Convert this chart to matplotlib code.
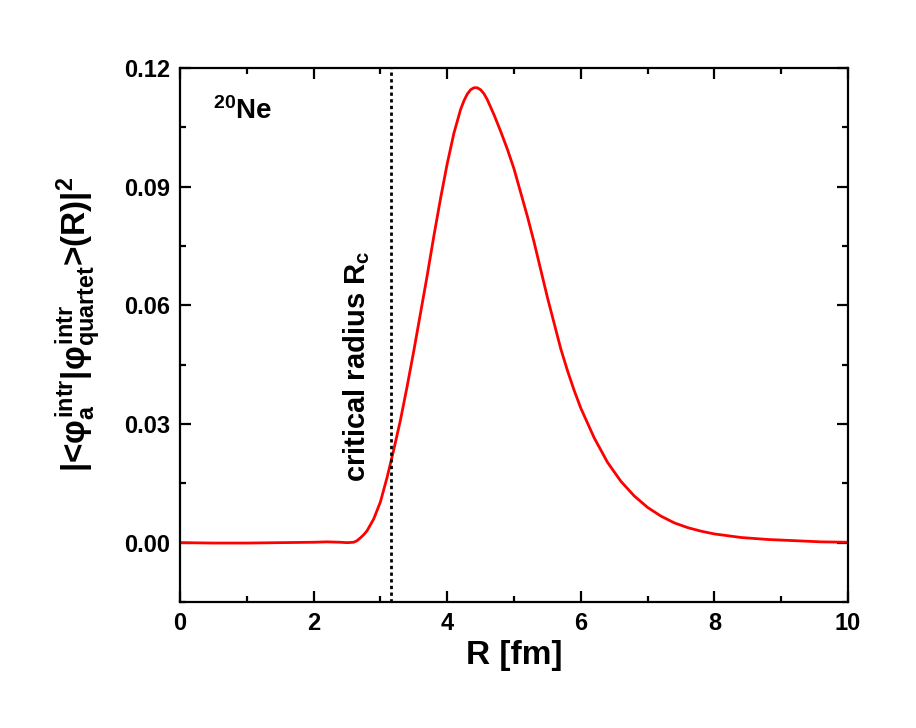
import numpy as np
import matplotlib
matplotlib.use('Agg')
from matplotlib import pyplot as plt
from matplotlib.ticker import MultipleLocator

plt.rcParams['font.family'] = ['Liberation Sans', 'DejaVu Sans']
plt.rcParams['font.weight'] = 'bold'
plt.rcParams['mathtext.fontset'] = 'custom'
plt.rcParams['mathtext.rm'] = 'Liberation Sans:bold'
plt.rcParams['mathtext.it'] = 'Liberation Sans:bold'
plt.rcParams['mathtext.bf'] = 'Liberation Sans:bold'
plt.rcParams['mathtext.sf'] = 'Liberation Sans:bold'

# overlap amplitude
R = [0.0, 0.5, 1.0, 1.5, 2.0, 2.2, 2.4, 2.5, 2.6, 2.65, 2.7, 2.75, 2.8,
     2.9, 3.0, 3.1, 3.2, 3.3, 3.4, 3.5, 3.6, 3.7, 3.8, 3.9, 4.0, 4.1, 4.2,
     4.25, 4.3, 4.35, 4.4, 4.45, 4.5, 4.55, 4.6, 4.7, 4.8, 4.9, 5.0, 5.1,
     5.2, 5.3, 5.4, 5.5, 5.6, 5.7, 5.8, 5.9, 6.0, 6.2, 6.4, 6.6, 6.8, 7.0,
     7.2, 7.4, 7.6, 7.8, 8.0, 8.4, 8.8, 9.2, 9.6, 10.0]
overlap = [0.0, -0.0001, -0.0001, 0.0, 0.0001, 0.0002, 0.0001, 0.0, 0.0001,
           0.0005, 0.0012, 0.0020, 0.0030, 0.0060, 0.0103, 0.0165, 0.0235,
           0.0310, 0.0395, 0.0485, 0.0580, 0.0675, 0.0775, 0.0870, 0.0958,
           0.1035, 0.1095, 0.1117, 0.1134, 0.1145, 0.1150, 0.1150, 0.1145,
           0.1135, 0.1120, 0.1082, 0.1040, 0.0995, 0.0945, 0.0885, 0.0825,
           0.0760, 0.0690, 0.0620, 0.0555, 0.0490, 0.0435, 0.0385, 0.0340,
           0.0265, 0.0203, 0.0155, 0.0118, 0.0089, 0.0067, 0.0050, 0.0038,
           0.0029, 0.0022, 0.0013, 0.0008, 0.0005, 0.0002, 0.0001]
R_crit = 3.16

fig = plt.figure(figsize=(9.16, 7.28), dpi=100)
ax = fig.add_axes([0.1965, 0.1731, 0.7293, 0.7335])

ax.plot(R, overlap, color='red', lw=2.0)
ax.axvline(R_crit, color='black', ls=(0, (1.2, 1.2)), lw=2.0)

ax.set_xlim(0, 10)
ax.set_ylim(-0.015, 0.12)
ax.xaxis.set_major_locator(MultipleLocator(2))
ax.xaxis.set_minor_locator(MultipleLocator(1))
ax.yaxis.set_minor_locator(MultipleLocator(0.015))
ax.set_yticks([0.0, 0.03, 0.06, 0.09, 0.12])
ax.set_yticklabels(['0.00', '0.03', '0.06', '0.09', '0.12'])

for s in ax.spines.values():
    s.set_linewidth(1.6)
ax.tick_params(which='both', direction='in', top=True, right=True,
               width=1.6, labelsize=17, pad=7)
ax.tick_params(which='major', length=8)
ax.tick_params(which='minor', length=4)

ax.set_xlabel('R [fm]', fontsize=24, fontweight='bold', labelpad=4)
ax.set_ylabel(r'|<$\varphi_a^{intr}$|$\varphi_{quartet}^{intr}$>(R)|$^2$',
              fontsize=24, fontweight='bold')
ax.yaxis.set_label_coords(-0.116, 0.52)

ax.text(0.5, 0.107, r'$^{20}$Ne', fontsize=20, fontweight='bold')
ax.text(2.65, 0.0446, r'critical radius R$_c$', fontsize=21,
        fontweight='bold', rotation=90, ha='center', va='center')

plt.savefig('out.png', dpi=100)
